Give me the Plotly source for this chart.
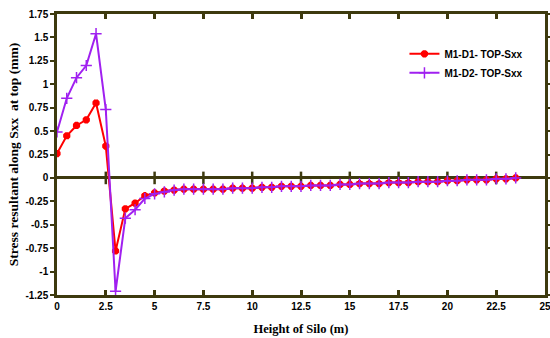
import plotly.graph_objects as go

heights = [0, 0.5, 1, 1.5, 2, 2.5, 3, 3.5, 4, 4.5, 5, 5.5, 6, 6.5, 7, 7.5, 8, 8.5, 9, 9.5,
           10, 10.5, 11, 11.5, 12, 12.5, 13, 13.5, 14, 14.5, 15, 15.5, 16, 16.5, 17, 17.5,
           18, 18.5, 19, 19.5, 20, 20.5, 21, 21.5, 22, 22.5, 23, 23.5]

d1 = [0.26, 0.45, 0.56, 0.62, 0.80, 0.34, -0.78, -0.33, -0.27, -0.19, -0.16, -0.14, -0.13, -0.12,
      -0.12, -0.12, -0.12, -0.12, -0.11, -0.11, -0.11, -0.10, -0.10, -0.09, -0.09, -0.09,
      -0.08, -0.08, -0.08, -0.07, -0.07, -0.06, -0.06, -0.06, -0.05, -0.05, -0.05, -0.04,
      -0.04, -0.04, -0.03, -0.03, -0.02, -0.02, -0.02, -0.01, -0.01, 0.0]

d2 = [0.49, 0.85, 1.07, 1.20, 1.54, 0.73, -1.21, -0.43, -0.34, -0.22, -0.17, -0.15, -0.13, -0.12,
      -0.12, -0.12, -0.12, -0.12, -0.11, -0.11, -0.11, -0.10, -0.10, -0.09, -0.09, -0.09,
      -0.08, -0.08, -0.08, -0.07, -0.07, -0.06, -0.06, -0.06, -0.05, -0.05, -0.05, -0.04,
      -0.04, -0.04, -0.03, -0.03, -0.02, -0.02, -0.02, -0.01, -0.01, 0.0]

x_ticks = [0, 2.5, 5, 7.5, 10, 12.5, 15, 17.5, 20, 22.5, 25]
x_labels = ["0", "2.5", "5", "7.5", "10", "12.5", "15", "17.5", "20", "22.5", "25"]
y_ticks = [-1.25, -1, -0.75, -0.5, -0.25, 0, 0.25, 0.5, 0.75, 1, 1.25, 1.5, 1.75]
y_labels = ["-1.25", "-1", "-0.75", "-0.5", "-0.25", "0", "0.25", "0.5", "0.75", "1", "1.25", "1.5", "1.75"]

axis_col = "#3d3a0e"
tick_font = dict(family="Liberation Sans", size=10, color="black", weight="bold")

fig = go.Figure()

# zero line ticks
fig.add_trace(go.Scatter(x=x_ticks[1:-1], y=[0] * (len(x_ticks) - 2), mode="markers",
                         marker=dict(symbol="line-ns", size=9, line=dict(color=axis_col, width=2.5)),
                         showlegend=False, hoverinfo="skip"))

fig.add_trace(go.Scatter(x=heights, y=d1, mode="lines+markers", name="M1-D1- TOP-Sxx",
                         line=dict(color="#ff0000", width=2),
                         marker=dict(symbol="asterisk-open", size=6, color="#ff0000",
                                     line=dict(color="#ff0000", width=3))))
fig.add_trace(go.Scatter(x=heights, y=d2, mode="lines+markers", name="M1-D2- TOP-Sxx",
                         line=dict(color="#a020f0", width=2),
                         marker=dict(symbol="cross-thin-open", size=8, color="#a020f0",
                                     line=dict(color="#a020f0", width=1.5))))

fig.update_layout(
    width=550, height=338,
    margin=dict(l=57, r=5, t=14, b=43, autoexpand=False),
    paper_bgcolor="white", plot_bgcolor="white",
    showlegend=True,
    legend=dict(x=0.712, y=0.91, xanchor="left", yanchor="top", bgcolor="rgba(0,0,0,0)",
                font=dict(family="Liberation Sans", size=10, color="black", weight="bold"),
                tracegroupgap=0, itemwidth=30),
    xaxis=dict(range=[0, 25], tickvals=x_ticks, ticktext=x_labels, showgrid=False,
               zeroline=False, showline=True, linecolor=axis_col, linewidth=2.5, mirror="allticks",
               ticks="inside", ticklen=5, tickwidth=2.5, tickcolor=axis_col, automargin=False,
               ticklabeloverflow="allow",
               tickfont=tick_font,
               title=dict(text="Height of Silo (m)", standoff=14,
                          font=dict(family="Liberation Serif", size=12.5, color="black", weight="bold"))),
    yaxis=dict(range=[-1.25, 1.75], tickvals=y_ticks, ticktext=y_labels, showgrid=False,
               zeroline=True, zerolinecolor=axis_col, zerolinewidth=2.5,
               showline=True, linecolor=axis_col, linewidth=2.5, mirror="allticks",
               ticks="outside", ticklen=4, tickwidth=2, tickcolor=axis_col, automargin=False,
               tickfont=tick_font,
               title=dict(text="Stress resultant along Sxx  at top (mm)", standoff=4,
                          font=dict(family="Liberation Serif", size=13.5, color="black", weight="bold"))),
)

fig.write_html("out.html")
